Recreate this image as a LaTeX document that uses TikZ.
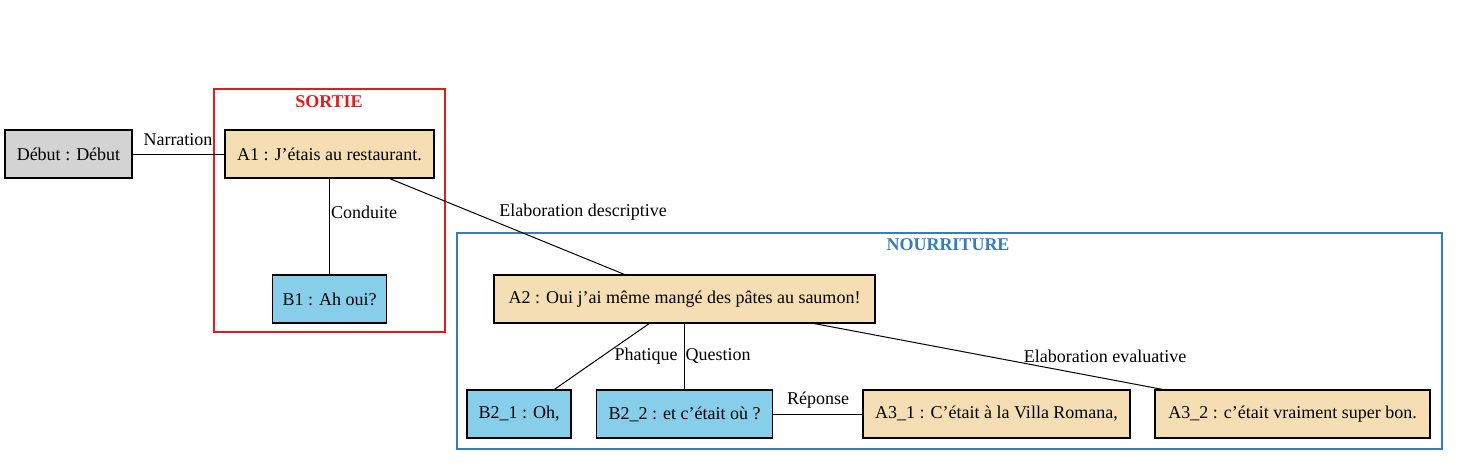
\documentclass[tikz,border=0pt]{standalone}
\usepackage{fontspec}
\setmainfont{Liberation Serif}
\definecolor{NodeGray}{HTML}{D3D3D3}
\definecolor{NodeWheat}{HTML}{F5DEB3}
\definecolor{NodeSky}{HTML}{87CEEB}
\definecolor{ClusterRed}{HTML}{E41A1C}
\definecolor{ClusterBlue}{HTML}{377EB8}
\usetikzlibrary{positioning}

\begin{document}
\begin{tikzpicture}[x=0.75pt, y=-0.75pt,
    every node/.style={font=\fontsize{13.5pt}{16pt}\selectfont},
    unit/.style={draw=black, line width=0.9pt, rectangle, minimum height=36pt, inner sep=0pt},
    edu/.style={unit, fill=NodeWheat},
    reply/.style={unit, fill=NodeSky},
    rel/.style={inner sep=1pt},
    link/.style={line width=0.75pt, draw=black}]
  \useasboundingbox (0,0) rectangle (1458,465);

  % Clusters
  \draw[ClusterRed, line width=0.8pt] (214,89) rectangle (445,332);
  \node[font=\fontsize{13.5pt}{16pt}\selectfont\bfseries, text=ClusterRed] (sortie) at (329,102) {SORTIE};
  \draw[ClusterBlue, line width=0.8pt] (457,233) rectangle (1442,449);
  \node[font=\fontsize{13.5pt}{16pt}\selectfont\bfseries, text=ClusterBlue] (nourriture) at (948,245) {NOURRITURE};

  % Units
  \node[unit, fill=NodeGray, minimum width=95.25pt] (debut) at (68.5,154) {Début : Début};
  \node[edu, minimum width=156.75pt] (a1) at (329.5,154) {A1 : J’étais au restaurant.};
  \node[reply, minimum width=85.5pt] (b1) at (329.5,299) {B1 : Ah oui?};
  \node[edu, minimum width=285.75pt] (a2) at (684.5,299) {A2 : Oui j’ai même mangé des pâtes au saumon!};
  \node[reply, minimum width=78pt] (b21) at (519,414) {B2\_1 : Oh,};
  \node[reply, minimum width=132pt] (b22) at (684.5,414) {B2\_2 : et c’était où ?};
  \node[edu, minimum width=200.25pt] (a31) at (996.5,414) {A3\_1 : C’était à la Villa Romana,};
  \node[edu, minimum width=206.25pt] (a32) at (1292.5,414) {A3\_2 : c’était vraiment super bon.};

  % Relations
  \draw[link] (debut) -- (a1);
  \draw[link] (a1) -- (b1);
  \draw[link] (a1) -- (a2);
  \draw[link] (a2) -- (b21);
  \draw[link] (a2) -- (b22);
  \draw[link] (b22) -- (a31);
  \draw[link] (a2) -- (a32);

  \node[rel] (narration) at (178,140) {Narration};
  \node[rel] (conduite) at (364,212) {Conduite};
  \node[rel] (descriptive) at (583,212) {Elaboration descriptive};
  \node[rel] (phatique) at (646,356) {Phatique};
  \node[rel] (question) at (718,356) {Question};
  \node[rel] (reponse) at (818,400) {Réponse};
  \node[rel] (evaluative) at (1105,356) {Elaboration evaluative};
\end{tikzpicture}
\end{document}
